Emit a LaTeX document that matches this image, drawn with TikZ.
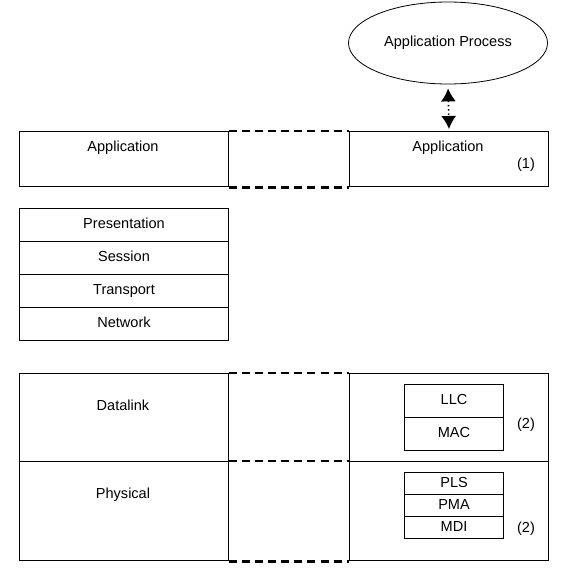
\documentclass[tikz,border=0pt]{standalone}
\usepackage{fontspec}
\setmainfont{Liberation Sans}
\usetikzlibrary{shapes.geometric,arrows.meta}

\newcommand{\pxl}{0.75pt}
\tikzset{
  frame/.style={draw,line width=0.8pt,inner sep=0pt,anchor=north west},
  peer/.style={line width=2.2pt,dash pattern=on 6pt off 3.8pt},
  lbl/.style={font=\fontsize{10.9}{12}\selectfont,inner sep=0pt,text height=7.8pt,text depth=2pt},
  bigtip/.tip={Latex[length=13*\pxl,width=15*\pxl]}
}

\begin{document}
\begin{tikzpicture}[x=0.75pt,y=-0.75pt]
  \useasboundingbox (0,0) rectangle (564,570);
  % application process on top
  \node[draw,ellipse,line width=0.6pt,lbl,minimum width=199*\pxl,minimum height=82*\pxl] (proc) at (448,43) {Application Process};

  % layer 7, both ends
  \node[frame,minimum width=209*\pxl,minimum height=55*\pxl] (appL) at (19,131) {};
  \node[frame,minimum width=199*\pxl,minimum height=55*\pxl] (appR) at (349,131) {};
  \node[lbl] (appLtxt) at (123,148) {Application};
  \node[lbl] (appRtxt) at (448,148) {Application};
  \node[lbl] (noteA) at (526,165) {(1)};
  \draw[bigtip-bigtip,line width=1.2pt,dotted,shorten <=4*\pxl,shorten >=2*\pxl] (proc.south) -- (appR.north);
  \draw[peer] (appL.north east) -- (appR.north west);
  \draw[peer] (appL.south east) -- (appR.south west);

  % layers 6 to 3
  \foreach \name/\txt [count=\i] in {pres/Presentation,sess/Session,trans/Transport,net/Network}
    \node[frame,lbl,minimum width=209*\pxl,minimum height=33*\pxl] (\name) at (19,{208+33*(\i-1)}) {\txt};

  % layers 2 and 1
  \node[frame,minimum width=209*\pxl,minimum height=88*\pxl] (dlL) at (19,373) {};
  \node[frame,minimum width=209*\pxl,minimum height=99*\pxl] (phyL) at (19,461) {};
  \node[frame,minimum width=199*\pxl,minimum height=88*\pxl] (dlR) at (349,373) {};
  \node[frame,minimum width=199*\pxl,minimum height=99*\pxl] (phyR) at (349,461) {};
  \node[lbl] (dlLtxt) at (123,407) {Datalink};
  \node[lbl] (phyLtxt) at (123,495) {Physical};
  \draw[peer] (dlL.north east) -- (dlR.north west);
  \draw[peer] (phyL.north east) -- (phyR.north west);
  \draw[peer] (phyL.south east) -- (phyR.south west);

  % sublayers
  \node[frame,lbl,minimum width=99*\pxl,minimum height=33*\pxl] (llc) at (404,384) {LLC};
  \node[frame,lbl,minimum width=99*\pxl,minimum height=33*\pxl] (mac) at (404,417) {MAC};
  \node[lbl] (noteB) at (526,425) {(2)};
  \node[frame,lbl,minimum width=99*\pxl,minimum height=22*\pxl] (pls) at (404,472) {PLS};
  \node[frame,lbl,minimum width=99*\pxl,minimum height=22*\pxl] (pma) at (404,494) {PMA};
  \node[frame,lbl,minimum width=99*\pxl,minimum height=22*\pxl] (mdi) at (404,516) {MDI};
  \node[lbl] (noteC) at (526,529) {(2)};
\end{tikzpicture}
\end{document}
